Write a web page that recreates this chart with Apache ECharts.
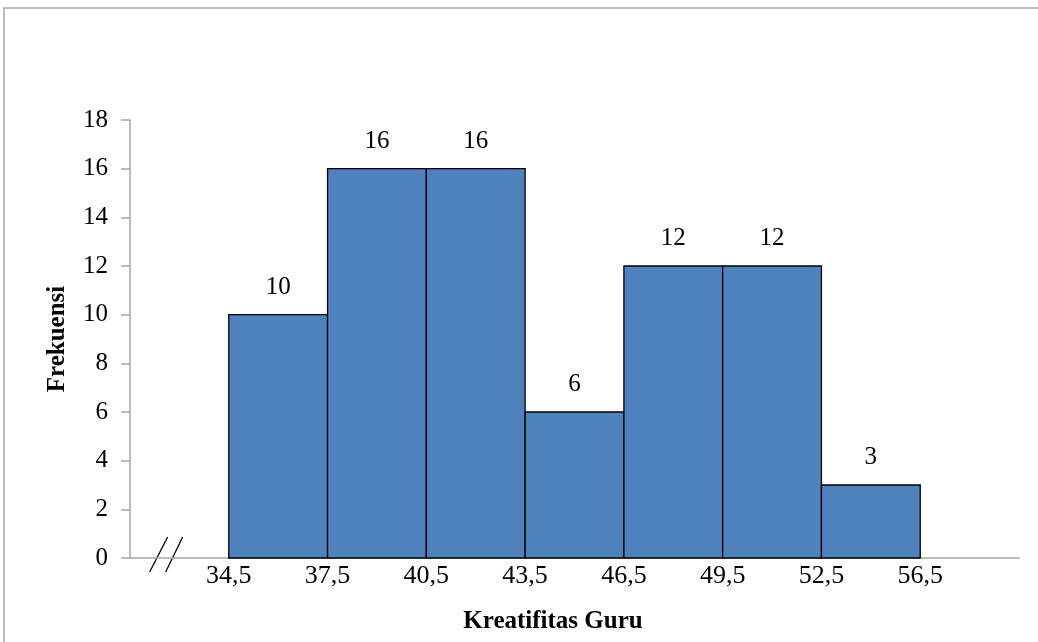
<!DOCTYPE html>
<html>
<head>
<meta charset="utf-8">
<script src="https://cdn.jsdelivr.net/npm/echarts@6/dist/echarts.min.js"></script>
<style>html,body{margin:0;padding:0;background:#fff}#c{width:1038px;height:642px}</style>
</head>
<body>
<div id="c"></div>
<script>
// Class boundaries (tick labels) and frequencies
var boundaries = ['34,5', '37,5', '40,5', '43,5', '46,5', '49,5', '52,5', '56,5'];
var frequencies = [10, 16, 16, 6, 12, 12, 3];
var yTicks = [0, 2, 4, 6, 8, 10, 12, 14, 16, 18];
var xTitle = 'Kreatifitas Guru';
var yTitle = 'Frekuensi';

var FONT = '"Liberation Serif", "Times New Roman", serif';
var chart = echarts.init(document.getElementById('c'), null, {renderer: 'canvas'});

var barData = frequencies.map(function (v, i) { return [i, i + 1, v]; });

chart.setOption({
  animation: false,
  backgroundColor: '#fff',
  grid: {left: 130, right: 19, top: 120, bottom: 84},
  xAxis: {
    type: 'value', min: -1, max: boundaries.length, interval: 1,
    axisLine: {show: true, onZero: false, lineStyle: {color: '#a6a6a6', width: 1.5}},
    axisTick: {show: false},
    splitLine: {show: false},
    axisLabel: {
      color: '#000', fontFamily: FONT, fontSize: 26, margin: 5,
      formatter: function (v) { return (v >= 0 && v < boundaries.length) ? boundaries[v] : ''; }
    }
  },
  yAxis: {
    type: 'value', min: yTicks[0], max: yTicks[yTicks.length - 1], interval: 2,
    name: yTitle, nameLocation: 'middle', nameGap: 60,
    nameTextStyle: {color: '#000', fontFamily: FONT, fontSize: 25, fontWeight: 'bold'},
    axisLine: {show: true, onZero: false, lineStyle: {color: '#a6a6a6', width: 1.5}},
    axisTick: {show: true, length: 9, lineStyle: {color: '#a6a6a6', width: 1.5}},
    splitLine: {show: false},
    axisLabel: {color: '#000', fontFamily: FONT, fontSize: 25, margin: 22}
  },
  series: [{
    type: 'custom',
    data: barData,
    encode: {x: [0, 1], y: 2},
    renderItem: function (params, api) {
      var p0 = api.coord([api.value(0), api.value(2)]);
      var p1 = api.coord([api.value(1), 0]);
      return {
        type: 'group',
        children: [{
          type: 'rect',
          shape: {x: p0[0], y: p0[1], width: p1[0] - p0[0], height: p1[1] - p0[1]},
          style: {fill: '#4f81bd', stroke: '#000', lineWidth: 1.3}
        }, {
          type: 'text',
          style: {
            text: String(api.value(2)), x: (p0[0] + p1[0]) / 2, y: p0[1] - 15,
            textAlign: 'center', textVerticalAlign: 'bottom',
            fill: '#000', font: '25px ' + FONT
          }
        }]
      };
    }
  }]
});

// decorations: frame, axis break mark, x-axis title
var o = chart.convertToPixel({gridIndex: 0}, [-0.72, 0]);
chart.setOption({
  graphic: [
    {type: 'rect', shape: {x: 4, y: 8, width: 1100, height: 700}, style: {fill: 'none', stroke: '#a6a6a6', lineWidth: 1.5}, silent: true},
    {type: 'line', shape: {x1: o[0] - 8, y1: o[1] + 14, x2: o[0] + 10, y2: o[1] - 21}, style: {stroke: '#000', lineWidth: 1.3}},
    {type: 'line', shape: {x1: o[0] + 8, y1: o[1] + 14, x2: o[0] + 25, y2: o[1] - 21}, style: {stroke: '#000', lineWidth: 1.3}},
    {type: 'text', x: 553, y: 622, style: {text: xTitle, textAlign: 'center', textVerticalAlign: 'middle', fill: '#000', font: 'bold 25px ' + FONT}}
  ]
});
</script>
</body>
</html>
